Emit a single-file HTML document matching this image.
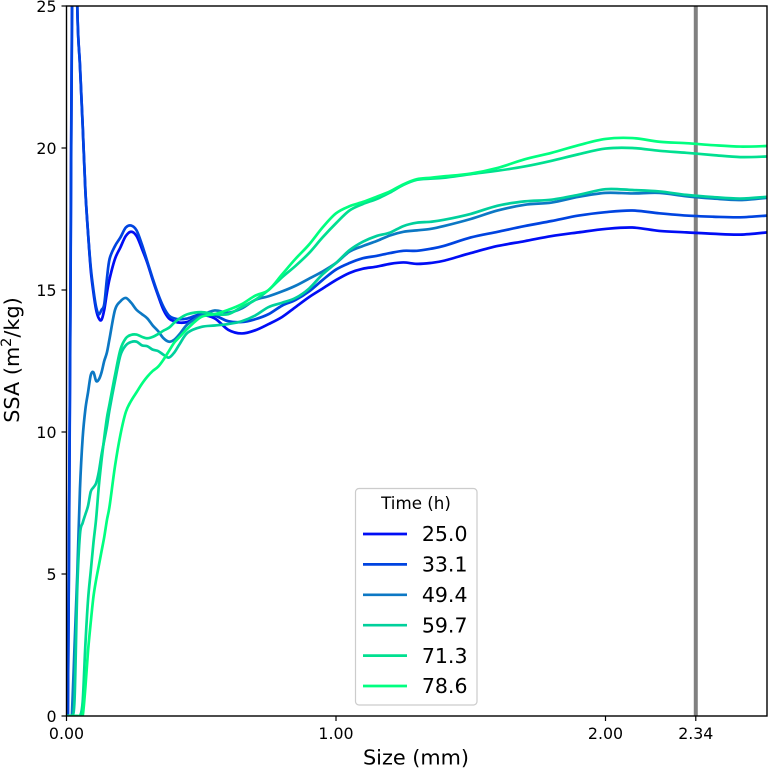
<!DOCTYPE html>
<html lang="en">
<head>
<meta charset="utf-8">
<title>SSA vs Size</title>
<style>
html,body{margin:0;padding:0;background:#fff;}
svg{display:block;}
text{font-family:"DejaVu Sans","Liberation Sans",sans-serif;fill:#000;}
</style>
</head>
<body>
<svg id="chart" xmlns="http://www.w3.org/2000/svg" width="769" height="768" viewBox="0 0 769 768">
  <defs>
    <clipPath id="plot-clip"><rect x="66.5" y="6" width="700.5" height="710"></rect></clipPath>
  </defs>
  <rect x="0" y="0" width="769" height="768" fill="#ffffff"></rect>
  <g id="marks" clip-path="url(#plot-clip)"></g>
  <rect x="66.5" y="6" width="700.5" height="710" fill="none" stroke="#000" stroke-width="1.4"></rect>
  <g id="ticks"></g>
  <text x="416" y="764.5" font-size="20.8" text-anchor="middle">Size (mm)</text>
  <text transform="translate(19 360) rotate(-90)" font-size="20.8" text-anchor="middle">SSA (m<tspan font-size="14.5" dy="-8">2</tspan><tspan dy="8">/kg)</tspan></text>
  <g id="legend">
    <rect x="355.5" y="488.5" width="121.5" height="216.5" rx="3.5" ry="3.5" fill="#ffffff" fill-opacity="0.8" stroke="#cccccc" stroke-width="1.2"></rect>
    <text x="416" y="509" font-size="16.7" text-anchor="middle">Time (h)</text>
  </g>
</svg>
<script>
const sizes = [0,.005,.01,.015,.02,.03,.04,.05,.06,.07,.08,.09,.10,.11,.12,.13,.14,.15,.16,.18,.20,.22,.24,.26,.28,.30,.32,.34,.36,.38,.40,.42,.45,.5,.55,.6,.65,.7,.75,.8,.85,.9,.95,1,1.05,1.1,1.15,1.2,1.25,1.3,1.35,1.4,1.5,1.6,1.7,1.8,1.9,2,2.1,2.2,2.3,2.4,2.5,2.6];
const ssa250 = [0,0,7.5,15.6,24.5,32,25,22.9,20.8,18.5,17,15.7,14.9,14.3,14,13.95,14.3,14.9,15.4,16.1,16.5,16.9,17.05,16.9,16.45,15.95,15.35,14.8,14.3,14,13.9,13.85,13.88,14.1,14,13.6,13.47,13.58,13.8,14.05,14.4,14.75,15.05,15.35,15.6,15.75,15.82,15.92,15.97,15.92,15.95,16.03,16.3,16.55,16.72,16.9,17.03,17.15,17.2,17.08,17.03,16.98,16.95,17.03];
const ssa331 = [0,0,7,15,24,32,25,22.9,20.8,18.5,17,15.8,15,14.4,14.15,14.3,14.5,15.4,16.1,16.55,16.85,17.2,17.27,17.1,16.6,16,15.4,14.85,14.4,14.1,14,13.97,14,14.15,14.1,13.9,13.87,13.97,14.15,14.45,14.65,14.95,15.35,15.72,15.95,16.12,16.2,16.3,16.38,16.38,16.45,16.55,16.85,17.05,17.25,17.43,17.62,17.74,17.8,17.7,17.62,17.58,17.56,17.62];
const ssa494 = [0,0,0,0,0,2.5,5,8,9.8,10.8,11.4,12,12.1,11.8,11.85,12.1,12.5,12.8,13.3,14.3,14.6,14.72,14.55,14.3,14.15,14,13.75,13.55,13.3,13.18,13.25,13.45,13.8,14.1,14.28,14.2,14.35,14.65,14.78,14.95,15.15,15.4,15.65,15.95,16.35,16.55,16.72,16.92,17.05,17.1,17.15,17.25,17.5,17.8,18,18.08,18.28,18.42,18.4,18.42,18.3,18.22,18.17,18.25];
const ssa597 = [0,0,0,0,0,.6,4.5,6.4,6.8,7.1,7.4,7.9,8.05,8.2,8.6,9.2,9.7,10.2,10.8,11.8,12.7,13.05,13.17,13.18,13.05,13.02,12.9,12.85,12.72,12.62,12.8,13.1,13.5,13.7,13.75,13.8,13.9,14.1,14.4,14.55,14.72,15.05,15.55,15.95,16.4,16.7,16.9,17.02,17.25,17.37,17.4,17.47,17.68,17.97,18.12,18.18,18.35,18.55,18.52,18.47,18.35,18.27,18.22,18.28];
const ssa713 = [0,0,0,0,0,0,0,0,.5,2.5,4.1,5.1,6.1,6.95,8.1,9,9.8,10.5,11,12,12.9,13.3,13.42,13.43,13.35,13.3,13.35,13.45,13.57,13.67,13.85,14,14.15,14.22,14.15,14.15,14.4,14.65,15,15.45,15.85,16.3,16.85,17.35,17.8,18.03,18.2,18.43,18.7,18.88,18.92,18.95,19.08,19.2,19.35,19.55,19.78,19.98,20,19.9,19.83,19.75,19.68,19.7];
const ssa786 = [0,0,0,0,0,0,0,0,0,1,2.3,3.3,4.2,4.8,5.3,5.8,6.3,6.9,7.4,8.8,9.9,10.7,11.1,11.4,11.7,11.95,12.15,12.3,12.55,12.85,13.15,13.35,13.65,14.05,14.15,14.3,14.5,14.8,15,15.55,16.1,16.6,17.2,17.7,17.95,18.1,18.28,18.47,18.72,18.9,18.95,19,19.1,19.3,19.6,19.83,20.1,20.32,20.35,20.22,20.17,20.1,20.05,20.07];
const seriesValues = [ssa250, ssa331, ssa494, ssa597, ssa713, ssa786];
const seriesLabels = ["25.0", "33.1", "49.4", "59.7", "71.3", "78.6"];
const seriesSlugs = ["25-0", "33-1", "49-4", "59-7", "71-3", "78-6"];
const seriesColors = ["#000df5", "#0044e0", "#0c78c4", "#00d09c", "#00e090", "#00ff80"];
const xTickValues = [0, 1, 2, 2.335];
const xTickLabels = ["0.00", "1.00", "2.00", "2.34"];
const yTickValues = [0, 5, 10, 15, 20, 25];
const yTickLabels = ["0", "5", "10", "15", "20", "25"];
const markerSize = 2.335;

const NS = "http://www.w3.org/2000/svg";
function xScale(v) { return 66.5 + v * 269.5; }
function yScale(v) { return 716 - v * 28.4; }
function make(tag, attrs, parent) {
  const el = document.createElementNS(NS, tag);
  for (const k in attrs) el.setAttribute(k, attrs[k]);
  parent.appendChild(el);
  return el;
}
function linePath(xs, ys) {
  const pts = xs.map(function (x, i) { return [xScale(x), yScale(ys[i])]; });
  let d = "M" + pts[0][0].toFixed(2) + " " + pts[0][1].toFixed(2);
  for (let i = 0; i < pts.length - 1; i++) {
    const p0 = pts[Math.max(0, i - 1)], p1 = pts[i], p2 = pts[i + 1], p3 = pts[Math.min(pts.length - 1, i + 2)];
    const c1x = p1[0] + (p2[0] - p0[0]) / 6, c1y = p1[1] + (p2[1] - p0[1]) / 6;
    const c2x = p2[0] - (p3[0] - p1[0]) / 6, c2y = p2[1] - (p3[1] - p1[1]) / 6;
    d += "C" + c1x.toFixed(2) + " " + c1y.toFixed(2) + " " + c2x.toFixed(2) + " " + c2y.toFixed(2) + " " + p2[0].toFixed(2) + " " + p2[1].toFixed(2);
  }
  return d;
}

const marks = document.getElementById("marks");
const refLine = make("line", { x1: xScale(markerSize), x2: xScale(markerSize), y1: 6, y2: 716, stroke: "#808080", "stroke-width": 4 }, marks);



seriesValues.forEach(function (vals, i) {
  const path = make("path", { d: linePath(sizes, vals), fill: "none", stroke: seriesColors[i], "stroke-width": 2.7, "stroke-linejoin": "round" }, marks);
  
  
});

const ticks = document.getElementById("ticks");
xTickValues.forEach(function (v, i) {
  const t = make("line", { x1: xScale(v), x2: xScale(v), y1: 716, y2: 721, stroke: "#000", "stroke-width": 1.2 }, ticks);
  
  
  const l = make("text", { x: xScale(v), y: 739, "font-size": 15.8, "text-anchor": "middle" }, ticks);
  l.textContent = xTickLabels[i];
  
  
});
yTickValues.forEach(function (v, i) {
  const t = make("line", { x1: 61.5, x2: 66.5, y1: yScale(v), y2: yScale(v), stroke: "#000", "stroke-width": 1.2 }, ticks);
  
  
  const l = make("text", { x: 56.5, y: yScale(v) + 5.8, "font-size": 15.8, "text-anchor": "end" }, ticks);
  l.textContent = yTickLabels[i];
  
  
});

const legend = document.getElementById("legend");
seriesLabels.forEach(function (label, i) {
  const rowY = 534 + i * 30.4;
  const swatch = make("line", { x1: 363, x2: 407, y1: rowY, y2: rowY, stroke: seriesColors[i], "stroke-width": 2.7 }, legend);
  
  
  const txt = make("text", { x: 467.5, y: rowY + 7.2, "font-size": 20.5, "text-anchor": "end" }, legend);
  txt.textContent = label;
  
  
});
</script>
</body>
</html>
